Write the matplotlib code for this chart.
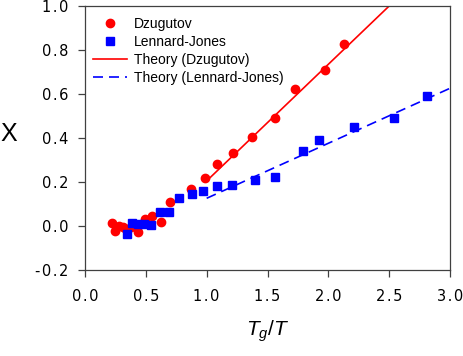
import numpy as np
import matplotlib
matplotlib.use("Agg")
import matplotlib.pyplot as plt

plt.rcParams['mathtext.fontset'] = 'custom'
plt.rcParams['mathtext.rm'] = 'Liberation Sans'
plt.rcParams['mathtext.it'] = 'Liberation Sans:italic'

# Dzugutov data (red circles)
dz_x = [0.22, 0.246, 0.277, 0.31, 0.34, 0.378, 0.438, 0.493, 0.553, 0.622, 0.698,
        0.871, 0.986, 1.087, 1.216, 1.375, 1.561, 1.728, 1.972, 2.126]
dz_y = [0.015, -0.021, 0.0, -0.006, -0.012, -0.006, -0.026, 0.032, 0.045, 0.018, 0.11,
        0.17, 0.22, 0.282, 0.333, 0.406, 0.492, 0.621, 0.709, 0.829]

# Lennard-Jones data (blue squares)
lj_x = [0.342, 0.389, 0.438, 0.485, 0.545, 0.616, 0.693, 0.775, 0.879, 0.97,
        1.085, 1.21, 1.394, 1.561, 1.791, 1.923, 2.213, 2.539, 2.81]
lj_y = [-0.038, 0.012, 0.008, 0.008, 0.006, 0.064, 0.064, 0.127, 0.145, 0.158,
        0.18, 0.185, 0.208, 0.221, 0.341, 0.391, 0.451, 0.492, 0.589]

# theory lines (linear fits)
th_dz_x = [1.0, 2.5]
th_dz_y = [0.205, 1.0]
th_lj_x = [1.0, 3.0]
th_lj_y = [0.126, 0.626]

xticks = [0.0, 0.5, 1.0, 1.5, 2.0, 2.5, 3.0]
yticks = [-0.2, 0.0, 0.2, 0.4, 0.6, 0.8, 1.0]


def spaced(v):
    # slightly wider tick labels like the original
    return '\u200a'.join('%.1f' % v)


fig = plt.figure(figsize=(4.63, 3.56), dpi=100)
ax = fig.add_axes([85 / 463, 1 - 270 / 356, 365 / 463, 264 / 356])

ax.plot(dz_x, dz_y, 'o', color='#ff0000', ms=6, mec='#ff0000', label='Dzugutov')
ax.plot(lj_x, lj_y, 's', color='#0000ff', ms=5.5, mec='#0000ff', label='Lennard-Jones')
ax.plot(th_dz_x, th_dz_y, '-', color='#ff0000', lw=1.2, label='Theory (Dzugutov)')
ax.plot(th_lj_x, th_lj_y, '--', color='#0000ff', lw=1.2, dashes=(6, 3.6),
        label='Theory (Lennard-Jones)')

ax.set_xlim(0, 3.0)
ax.set_ylim(-0.2, 1.0)
ax.set_xticks(xticks)
ax.set_yticks(yticks)
ax.set_xticklabels([spaced(v) for v in xticks], family='DejaVu Sans', fontsize=10.5)
ax.set_yticklabels([spaced(v) for v in yticks], family='DejaVu Sans', fontsize=10.5)

for s in ax.spines.values():
    s.set_color('#404040')
    s.set_linewidth(0.9)
ax.tick_params(direction='out', length=5, width=0.9, color='#404040',
               top=False, right=False)
ax.tick_params(axis='x', pad=9)
ax.tick_params(axis='y', pad=7)

ax.set_ylabel('X', fontsize=18, family='Liberation Sans', rotation=0, va='center', ha='center')
ax.yaxis.set_label_coords(-0.208, 0.515)
ax.set_xlabel('$T_g/T$', fontsize=15)
ax.xaxis.set_label_coords(0.5, -0.185)

leg = ax.legend(loc='upper left', bbox_to_anchor=(0.0, 0.99), frameon=False,
                prop={'family': 'Liberation Sans', 'size': 10},
                handlelength=2.45, handletextpad=0.5, labelspacing=0.28,
                borderaxespad=0.2, numpoints=1)

fig.savefig('out.png', dpi=100)
